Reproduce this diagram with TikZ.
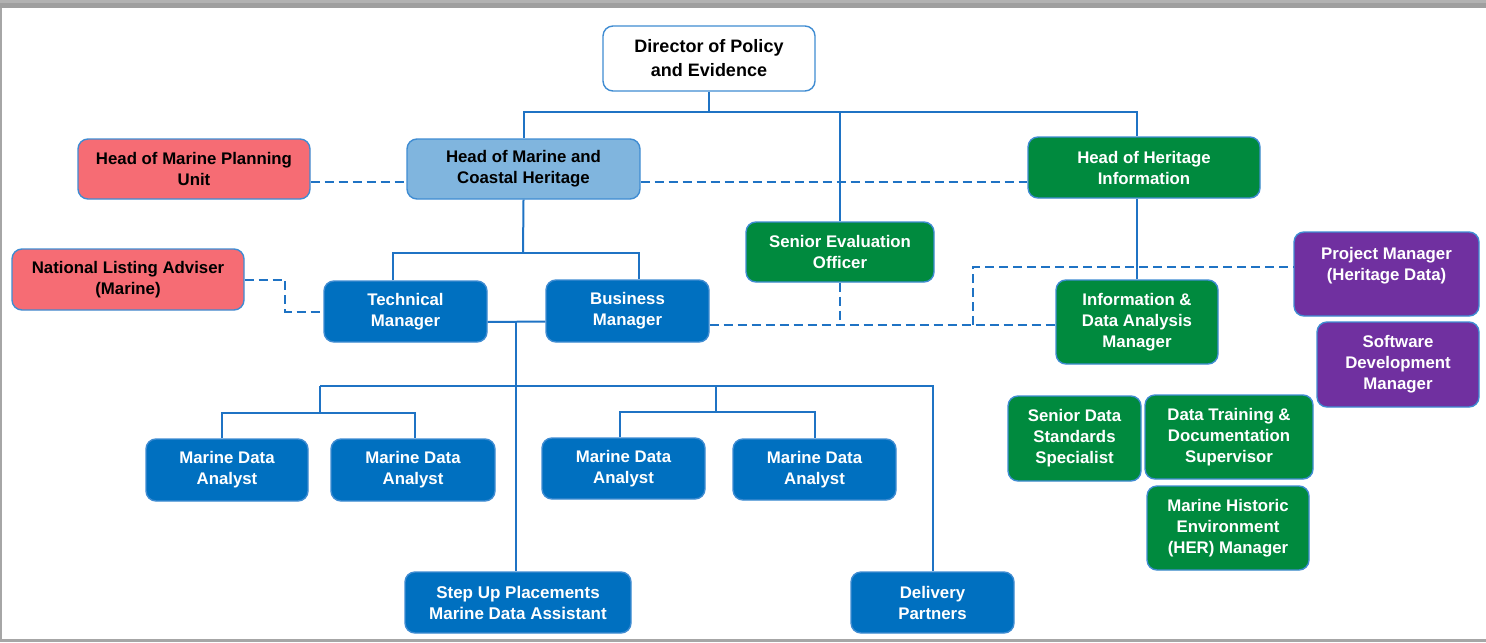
\documentclass[tikz,border=0pt]{standalone}
\usepackage{fontspec}
\setmainfont{Liberation Sans}
\usetikzlibrary{calc}
\definecolor{cblue}{HTML}{0070C0}
\definecolor{cline}{HTML}{1F73C4}
\definecolor{cedge}{HTML}{3F8CD2}
\definecolor{csalmon}{HTML}{F66C74}
\definecolor{clight}{HTML}{80B5DE}
\definecolor{cgreen}{HTML}{008A3E}
\definecolor{cpurple}{HTML}{7030A0}
\begin{document}
\begin{tikzpicture}[x=0.5pt,y=-0.5pt,
  box/.style={draw=cedge, line width=0.7pt, rounded corners=5pt, align=center,
    inner sep=0pt, font=\fontsize{8.4pt}{10.5pt}\selectfont\bfseries},
  bluebox/.style={box, fill=cblue, text=white},
  greenbox/.style={box, fill=cgreen, text=white},
  purplebox/.style={box, fill=cpurple, text=white},
  salmonbox/.style={box, fill=csalmon, text=black},
  lightbox/.style={box, fill=clight, text=black},
  conn/.style={draw=cline, line width=1pt},
  dsh/.style={draw=cline, line width=1pt, dash pattern=on 4.5pt off 2.5pt},
  sz/.style 2 args={minimum width=#1*0.5pt, minimum height=#2*0.5pt}
]
\useasboundingbox (0,0) rectangle (1486,642);
% frame
\fill[gray!75] (0,0) rectangle (1486,8);
\fill[gray!60] (0,0) rectangle (1486,3);
\fill[gray!70] (0,8) rectangle (2,642);
\fill[gray!70] (0,639) rectangle (1486,642);

% nodes
\node[box, fill=white, text=black, sz={212}{65}, font=\fontsize{9pt}{12pt}\selectfont\bfseries] (dir) at (709,58.5) {Director of Policy\\and Evidence};
\node[salmonbox, sz={232}{60}] (hmpu) at (194,169) {Head of Marine Planning\\Unit};
\node[lightbox, sz={233}{60}] (hmch) at (523.5,169) {Head of Marine and\\Coastal Heritage};
\node[greenbox, sz={232}{61}] (hhi) at (1144,167.5) {Head of Heritage\\Information};
\node[greenbox, sz={188}{60}] (seo) at (840,252) {Senior Evaluation\\Officer};
\node[salmonbox, sz={232}{61}] (nla) at (128,279.5) {National Listing Adviser\\(Marine)};
\node[bluebox, sz={163}{61}] (tm) at (405.5,311.5) {Technical\\Manager};
\node[bluebox, sz={163}{62}] (bm) at (627.5,311) {Business\\Manager};
\node[greenbox, sz={162}{84}] (idam) at (1137,322) {Information \&\\Data Analysis\\Manager};
\node[purplebox, sz={185}{84}] (pm) at (1386.5,274) {Project Manager\\(Heritage Data)\\~};
\node[purplebox, sz={162}{85}] (sdm) at (1398,364.5) {Software\\Development\\Manager};
\node[bluebox, sz={162}{62}] (mda1) at (227,470) {Marine Data\\Analyst};
\node[bluebox, sz={164}{62}] (mda2) at (413,470) {Marine Data\\Analyst};
\node[bluebox, sz={163}{61}] (mda3) at (623.5,468.5) {Marine Data\\Analyst};
\node[bluebox, sz={163}{61}] (mda4) at (814.5,469.5) {Marine Data\\Analyst};
\node[bluebox, sz={226}{61}, font=\fontsize{8.5pt}{10.5pt}\selectfont\bfseries] (sup) at (518,602.5) {Step Up Placements\\Marine Data Assistant};
\node[bluebox, sz={163}{61}] (dp) at (932.5,602.5) {Delivery\\Partners};
\node[greenbox, sz={133}{85}] (sdss) at (1074.5,438.5) {Senior Data\\Standards\\Specialist};
\node[greenbox, sz={168}{84}] (dtds) at (1229,437) {Data Training \&\\Documentation\\Supervisor};
\node[greenbox, sz={162}{84}] (mhe) at (1228,528) {Marine Historic\\Environment\\(HER) Manager};

% junction coordinates
\coordinate (j1) at (709,112);
\coordinate (j2) at (523,253);
\coordinate (j3) at (516,322);
\coordinate (j4) at (320,386);
\coordinate (j5) at (320,413);
\coordinate (j6) at (716,412);
\coordinate (n1) at (285,279.5);
\coordinate (k1) at (973,325);

% solid connectors
\draw[conn] (dir.south) -- (j1);
\draw[conn] (hmch.north) |- (idam.north |- j1) -- (hhi.north -| idam.north);
\draw[conn] (seo.north) -- (seo.north |- j1);
\draw[conn] (idam.north) -- (idam.north |- hhi.south);
\draw[conn] (hmch.south) -- (j2);
\draw[conn] ([xshift=-6.25pt]tm.north) |- ([xshift=5.75pt]bm.north |- j2) -- ([xshift=5.75pt]bm.north);
\draw[conn] ([yshift=-5.25pt]tm.east) -- ([yshift=-5.25pt]bm.west);
\draw[conn] (j3) -- (j3 |- sup.north);
\draw[conn] (j4) -- (dp.north |- j4) -- (dp.north);
\draw[conn] (j4) -- (j5);
\draw[conn] ([xshift=-2.5pt]mda1.north) |- ([xshift=1pt]mda2.north |- j5) -- ([xshift=1pt]mda2.north);
\draw[conn] (j6 |- j4) -- (j6);
\draw[conn] ([xshift=-1.75pt]mda3.north) |- (mda4.north |- j6) -- (mda4.north);

% dashed connectors
\draw[dsh] ([yshift=-6.5pt]hmpu.east) -- ([yshift=-6.5pt]hmch.west);
\draw[dsh] ([yshift=-6.5pt]hmch.east) -- ([yshift=-6.5pt]hmch.east -| hhi.west);
\draw[dsh] (nla.east) -- (n1) |- (tm.west);
\draw[dsh] ([yshift=-7pt]bm.east) -- ([yshift=-7pt]bm.east -| idam.west);
\draw[dsh] (seo.south) -- (seo.south |- k1);
\draw[dsh] (k1) |- ([yshift=3.5pt]pm.west);
\end{tikzpicture}
\end{document}
